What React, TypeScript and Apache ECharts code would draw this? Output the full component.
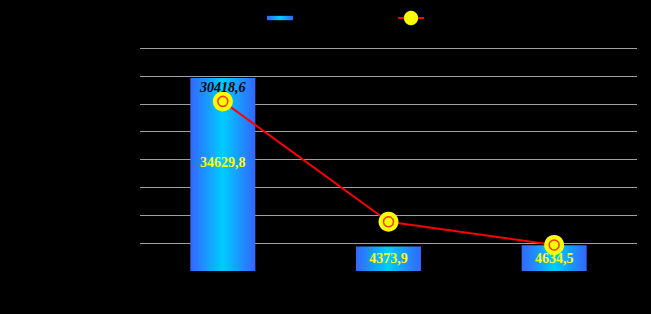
import React, { useEffect, useRef } from "react";
import * as echarts from "echarts";

const categories = ["A", "B", "C"];
const barValues = [34629.8, 4373.9, 4634.5];
const lineValues = [30418.6, 8843, 4664];
const barName = "柱";
const lineName = "线";

const fmt = (v: number) => String(v).replace(".", ",");

export default function App() {
  const ref = useRef<HTMLDivElement>(null);
  useEffect(() => {
    const chart = echarts.init(ref.current!, null, { renderer: "svg" });
    const barGrad = new echarts.graphic.LinearGradient(0, 0, 1, 0, [
      { offset: 0, color: "#3366ff" },
      { offset: 0.5, color: "#00ccff" },
      { offset: 1, color: "#3366ff" },
    ]);
    chart.setOption({
      animation: false,
      backgroundColor: "#000000",
      legend: {
        left: 262,
        top: 4,
        itemGap: 104,
        itemWidth: 26,
        itemHeight: 18,
        formatter: () => "",
        textStyle: { color: "#000" },
        data: [
          { name: barName, icon: "path://M0,0L24,0L24,4L0,4Z" },
          { name: lineName },
        ],
      },
      grid: { left: 140, right: 14, top: 48, bottom: 43 },
      xAxis: {
        type: "category",
        data: categories,
        axisLine: { show: false },
        axisTick: { show: false },
        axisLabel: { show: false },
      },
      yAxis: {
        type: "value",
        min: 0,
        max: 40000,
        interval: 5000,
        axisLine: { show: false },
        axisTick: { show: false },
        axisLabel: { show: false },
        splitLine: { showMinLine: false, lineStyle: { color: "#a0a0a0", width: 1 } },
      },
      series: [
        {
          name: barName,
          type: "bar",
          barWidth: 65,
          itemStyle: { color: barGrad },
          label: {
            show: true,
            position: "inside",
            color: "#ffff00",
            fontFamily: "Liberation Serif",
            fontWeight: "bold",
            fontSize: 14,
            formatter: (p: any) => fmt(p.value),
          },
          data: barValues.map((v, i) =>
            i === 0 ? { value: v, label: { offset: [0, -12] } } : v
          ),
          z: 2,
        },
        {
          name: lineName,
          type: "line",
          data: lineValues,
          symbol: "circle",
          symbolSize: 20,
          itemStyle: { color: "#ffff00" },
          lineStyle: { color: "#ff0000", width: 2 },
          label: {
            show: true,
            position: "top",
            distance: 2,
            offset: [0, 5],
            color: "#000000",
            fontFamily: "Liberation Serif",
            fontWeight: "bold",
            fontStyle: "italic",
            fontSize: 14,
            formatter: (p: any) => fmt(p.value),
          },
          z: 3,
        },
        {
          name: "ring",
          type: "scatter",
          data: lineValues,
          symbol: "circle",
          symbolSize: 10,
          itemStyle: { color: "#ffff00", borderColor: "#ff0000", borderWidth: 1.5 },
          silent: true,
          z: 4,
        },
      ],
    });
    return () => chart.dispose();
  }, []);
  return <div ref={ref} style={{ width: 651, height: 314, position: "absolute", left: 0, top: 0 }} />;
}
